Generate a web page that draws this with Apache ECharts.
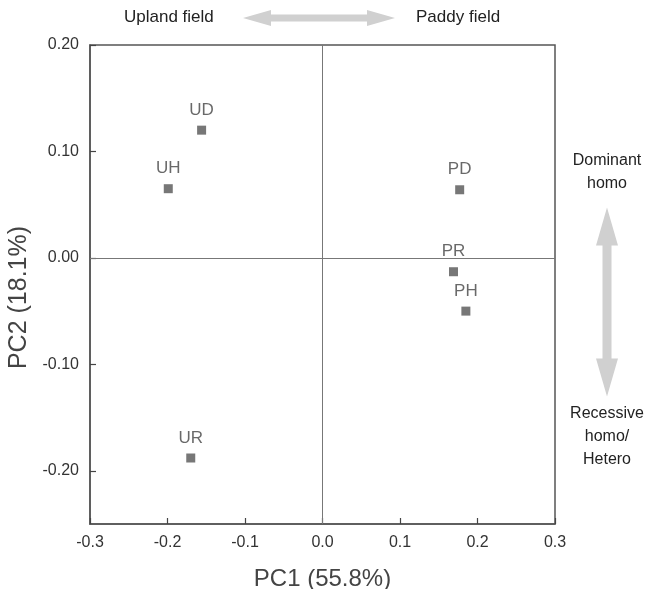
<!DOCTYPE html>
<html>
<head>
<meta charset="utf-8">
<script src="https://cdn.jsdelivr.net/npm/echarts@6/dist/echarts.min.js"></script>
<style>
  html, body { margin: 0; padding: 0; background: #fff; }
  #chart { width: 653px; height: 589px; }
</style>
</head>
<body>
<div id="chart"></div>
<script>
// PCA scores
const groups = ['UD', 'UH', 'UR', 'PD', 'PR', 'PH'];
const pc1 = [-0.156, -0.199, -0.170, 0.177, 0.169, 0.185];
const pc2 = [0.120, 0.065, -0.188, 0.064, -0.013, -0.050];
const xTicks = [-0.3, -0.2, -0.1, 0.0, 0.1, 0.2, 0.3];
const yTicks = [-0.2, -0.1, 0.0, 0.1, 0.2];

const chart = echarts.init(document.getElementById('chart'));
const grey = '#d0d0d0';
const fontF = 'Liberation Sans, Arial, sans-serif';

// double headed arrow shapes (decoration only)
function hArrow(cx, cy, len, head, hh, sh) {
  const l = cx - len / 2, r = cx + len / 2;
  return [[l, cy], [l + head, cy - hh], [l + head, cy - sh], [r - head, cy - sh], [r - head, cy - hh],
    [r, cy], [r - head, cy + hh], [r - head, cy + sh], [l + head, cy + sh], [l + head, cy + hh]];
}
function vArrow(cx, cy, len, head, hw, sw) {
  return hArrow(cy, cx, len, head, hw, sw).map(p => [p[1], p[0]]);
}

const pts = groups.map((g, i) => [pc1[i], pc2[i], g]);

chart.setOption({
  animation: false,
  backgroundColor: '#fff',
  grid: { left: 90, right: 98, top: 45, bottom: 65, show: true, borderColor: '#555', borderWidth: 1.5,
    outerBoundsMode: 'none', containLabel: false },
  xAxis: {
    type: 'value', min: -0.3, max: 0.3, interval: 0.1,
    name: 'PC1 (55.8%)', nameLocation: 'middle', nameGap: 43,
    nameTextStyle: { fontSize: 24, color: '#444', fontFamily: fontF },
    axisLine: { show: true, onZero: false, lineStyle: { color: '#555', width: 1.5 } },
    axisTick: { show: true, inside: true, length: 6, lineStyle: { color: '#444', width: 1.2 } },
    axisLabel: { fontSize: 16, color: '#333', margin: 11, fontFamily: fontF,
      formatter: v => v.toFixed(1) },
    splitLine: { show: false }
  },
  yAxis: {
    type: 'value', min: -0.25, max: 0.2,
    name: 'PC2 (18.1%)', nameLocation: 'middle', nameGap: 48,
    nameTextStyle: { fontSize: 25, color: '#444', fontFamily: fontF, padding: [0, 26, 0, 0] },
    axisLine: { show: true, onZero: false, lineStyle: { color: '#555', width: 1.5 } },
    axisTick: { show: true, inside: true, length: 6, lineStyle: { color: '#444', width: 1.2 }, customValues: yTicks },
    axisLabel: { fontSize: 16, color: '#333', margin: 11, fontFamily: fontF, customValues: yTicks,
      formatter: v => v.toFixed(2) },
    splitLine: { show: false }
  },
  series: [{
    type: 'scatter',
    data: pts,
    symbol: 'rect',
    symbolSize: 9,
    itemStyle: { color: '#555' },
    label: {
      show: true, position: 'top', distance: 7,
      formatter: p => p.data[2],
      fontSize: 17, color: '#444', fontFamily: fontF
    },
    markLine: {
      silent: true, symbol: 'none',
      lineStyle: { color: '#777', width: 1, type: 'solid' },
      label: { show: false },
      data: [{ xAxis: 0 }, { yAxis: 0 }]
    }
  }],
  graphic: [
    { type: 'text', left: 124, top: 9, style: { text: 'Upland field', fontSize: 17, fill: '#222', fontFamily: fontF } },
    { type: 'text', left: 416, top: 9, style: { text: 'Paddy field', fontSize: 17, fill: '#222', fontFamily: fontF } },
    { type: 'polygon', shape: { points: hArrow(319, 18, 152, 28, 8, 3.5) }, style: { fill: grey } },
    { type: 'polygon', shape: { points: vArrow(607, 302, 189, 38, 11, 4.5) }, style: { fill: grey } },
    { type: 'text', x: 607, y: 149, style: { text: 'Dominant\nhomo', fontSize: 16, lineHeight: 23, fill: '#222', align: 'center', fontFamily: fontF } },
    { type: 'text', x: 607, y: 402, style: { text: 'Recessive\nhomo/\nHetero', fontSize: 16, lineHeight: 23, fill: '#222', align: 'center', fontFamily: fontF } }
  ]
});
</script>
</body>
</html>
